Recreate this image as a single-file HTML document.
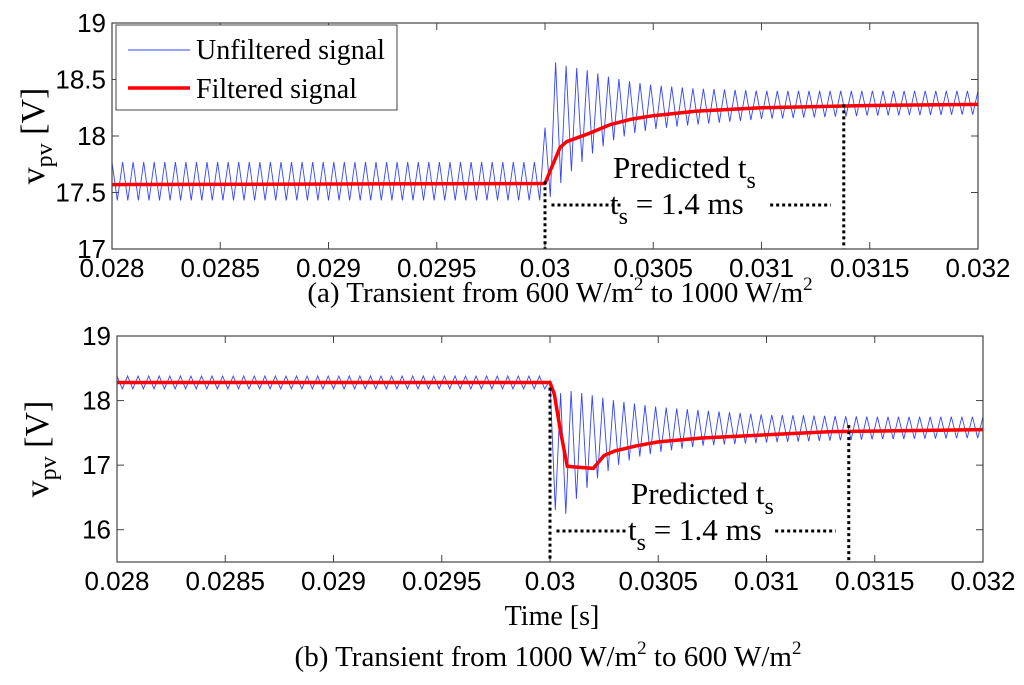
<!DOCTYPE html>
<html><head><meta charset="utf-8"><style>
html,body{margin:0;padding:0;background:#fff;}
svg{display:block;}
.tk{font-family:"Liberation Sans",sans-serif;font-size:26px;fill:#000;}
.sr{font-family:"Liberation Serif",serif;fill:#000;}
</style></head><body>
<svg id="fig" width="1024" height="685" viewBox="0 0 1024 685" xmlns="http://www.w3.org/2000/svg"></svg>
<script>
// ---- data ----
const xTicks = [0.028,0.0285,0.029,0.0295,0.03,0.0305,0.031,0.0315,0.032];
const xTickLabels = ["0.028","0.0285","0.029","0.0295","0.03","0.0305","0.031","0.0315","0.032"];
const aYTicks = [17,17.5,18,18.5,19];
const aYTickLabels = ["17","17.5","18","18.5","19"];
const bYTicks = [16,17,18,19];
const bYTickLabels = ["16","17","18","19"];
const ripplePeriod = 0.002/41;
// panel a: envelope knots
const aEnvT = [0.028,0.02999,0.03002,0.03006,0.0301,0.0302,0.0303,0.0304,0.0305,0.0307,0.031,0.0315,0.032];
const aEnvHi = [17.77,17.77,18.68,18.64,18.62,18.58,18.52,18.48,18.45,18.42,18.40,18.40,18.40];
const aEnvLo = [17.43,17.43,17.45,17.55,17.65,17.82,17.95,18.02,18.06,18.10,18.15,18.18,18.19];
const aFiltT = [0.028,0.03,0.03003,0.03007,0.0301,0.0302,0.0303,0.0304,0.0305,0.0307,0.031,0.0315,0.032];
const aFiltV = [17.57,17.58,17.72,17.9,17.95,18.02,18.1,18.15,18.18,18.22,18.25,18.27,18.28];
// panel b
const bEnvT = [0.028,0.02999,0.03003,0.0301,0.0302,0.0303,0.0304,0.0305,0.0307,0.031,0.0315,0.032];
const bEnvHi = [18.38,18.38,18.1,18.15,18.08,18.0,17.95,17.9,17.85,17.78,17.75,17.75];
const bEnvLo = [18.18,18.18,16.0,16.4,16.75,16.98,17.12,17.2,17.3,17.35,17.4,17.42];
const bFiltT = [0.028,0.03,0.03002,0.03005,0.03008,0.0302,0.03025,0.0303,0.0304,0.0305,0.0307,0.031,0.0313,0.032];
const bFiltV = [18.28,18.28,18.1,17.5,16.98,16.95,17.15,17.22,17.3,17.36,17.42,17.47,17.52,17.55];

const NS="http://www.w3.org/2000/svg";
const svg=document.getElementById('fig');
function mk(tag,attrs,parent){const e=document.createElementNS(NS,tag);for(const k in attrs)e.setAttribute(k,attrs[k]);(parent||svg).appendChild(e);return e;}
function interp(ts,vs,t){if(t<=ts[0])return vs[0];for(let i=1;i<ts.length;i++){if(t<=ts[i]){const f=(t-ts[i-1])/(ts[i]-ts[i-1]);return vs[i-1]+f*(vs[i]-vs[i-1]);}}return vs[vs.length-1];}

function panel(o){
  const X=t=>o.L+(t-0.028)/0.004*(o.R-o.L);
  const Y=v=>o.B-(v-o.ymin)/(o.ymax-o.ymin)*(o.B-o.T);
  const g=mk('g',{});
  
  
  const clipId=o.name+'-clip';
  const cp=mk('clipPath',{id:clipId},g);mk('rect',{x:o.L,y:o.T,width:o.R-o.L,height:o.B-o.T},cp);
  xTicks.forEach((t,i)=>{
    const x=X(t);
    const l1=mk('line',{x1:x,y1:o.B,x2:x,y2:o.B-7,stroke:'#444','stroke-width':1},g);
    
    mk('line',{x1:x,y1:o.T,x2:x,y2:o.T+7,stroke:'#444','stroke-width':1},g);
    const tx=mk('text',{x:x,y:o.B+28,'text-anchor':'middle',class:'tk'},g);tx.textContent=xTickLabels[i];
    
  });
  o.yt.forEach((v,i)=>{
    const y=Y(v);
    mk('line',{x1:o.L,y1:y,x2:o.L+7,y2:y,stroke:'#444','stroke-width':1},g);
    mk('line',{x1:o.R,y1:y,x2:o.R-7,y2:y,stroke:'#444','stroke-width':1},g);
    const tx=mk('text',{x:o.L-6,y:y+9,'text-anchor':'end',class:'tk'},g);tx.textContent=o.ytl[i];
    
  });
  const dg=mk('g',{'clip-path':'url(#'+clipId+')'},g);
  let pts=[];const half=ripplePeriod/2;
  for(let k=0;;k++){const t=0.028+k*half;if(t>0.032+half)break;
    const v=(k%2===0)?interp(o.eT,o.eHi,t):interp(o.eT,o.eLo,t);pts.push(X(t).toFixed(1)+','+Y(v).toFixed(1));}
  const pu=mk('polyline',{points:pts.join(' '),fill:'none',stroke:'#3344ff','stroke-width':0.9},dg);
  
  const pf=mk('polyline',{points:o.fT.map((t,i)=>X(t).toFixed(1)+','+Y(o.fV[i]).toFixed(1)).join(' '),fill:'none',stroke:'#ff0000','stroke-width':3.5,'stroke-linejoin':'round'},dg);
  
  const dot={stroke:'#000','stroke-width':3,'stroke-dasharray':'3,3',fill:'none'};
  const v1=mk('line',Object.assign({x1:X(0.03),y1:Y(o.v1top),x2:X(0.03),y2:o.B},dot),g);
  
  const v2=mk('line',Object.assign({x1:X(0.03138),y1:Y(o.v2top),x2:X(0.03138),y2:o.B},dot),g);
  
  mk('line',Object.assign({x1:X(0.03003),y1:o.hy,x2:X(0.03036),y2:o.hy},dot),g);
  mk('line',Object.assign({x1:X(0.03104),y1:o.hy,x2:X(0.03132),y2:o.hy},dot),g);
  const t1=mk('text',{x:o.px,y:o.hy-27,class:'sr','font-size':31},g);
  t1.innerHTML='Predicted t<tspan font-size="24" dy="10">s</tspan>';
  
  const t2=mk('text',{x:o.tsx,y:o.hy+9,class:'sr','font-size':31},g);
  t2.innerHTML='t<tspan font-size="24" dy="10">s</tspan><tspan dy="-10"> = 1.4 ms</tspan>';
  
  const bx=mk('rect',{x:o.L,y:o.T,width:o.R-o.L,height:o.B-o.T,fill:'none',stroke:'#444','stroke-width':1.2},g);
  
  const yl=mk('text',{transform:'translate('+o.ylx+','+((o.T+o.B)/2)+') rotate(-90)','text-anchor':'middle',class:'sr','font-size':34},g);
  yl.innerHTML='v<tspan font-size="24" dy="8">pv</tspan><tspan dy="-8"> [V]</tspan>';
  
  return {X,Y,g};
}
panel({name:'panel-a',L:112,R:978,T:23,B:249,ymin:17,ymax:19,yt:aYTicks,ytl:aYTickLabels,eT:aEnvT,eHi:aEnvHi,eLo:aEnvLo,fT:aFiltT,fV:aFiltV,v1top:17.6,v2top:18.28,hy:205,px:613,tsx:610,ylx:44});
panel({name:'panel-b',L:117,R:983,T:336,B:562,ymin:15.5,ymax:19,yt:bYTicks,ytl:bYTickLabels,eT:bEnvT,eHi:bEnvHi,eLo:bEnvLo,fT:bFiltT,fV:bFiltV,v1top:18.2,v2top:17.62,hy:531,px:631,tsx:628,ylx:48});

const lg=mk('g',{});


mk('rect',{x:116,y:25,width:281,height:85,fill:'#fff',stroke:'#444','stroke-width':1},lg);
mk('line',{x1:128,y1:50,x2:190,y2:50,stroke:'#3344ff','stroke-width':1},lg);
mk('line',{x1:128,y1:88,x2:190,y2:88,stroke:'#ff0000','stroke-width':3.5},lg);
const le1=mk('text',{x:196,y:59,class:'sr','font-size':28},lg);le1.textContent='Unfiltered signal';

const le2=mk('text',{x:196,y:98,class:'sr','font-size':28},lg);le2.textContent='Filtered signal';


const c1=mk('text',{x:560,y:302,'text-anchor':'middle',class:'sr','font-size':29});
c1.innerHTML='(a) Transient from 600 W/m<tspan font-size="19" dy="-12">2</tspan><tspan dy="12"> to 1000 W/m</tspan><tspan font-size="19" dy="-12">2</tspan>';

const xt=mk('text',{x:552,y:625,'text-anchor':'middle',class:'sr','font-size':28});xt.textContent='Time [s]';

const c2=mk('text',{x:548,y:666,'text-anchor':'middle',class:'sr','font-size':29});
c2.innerHTML='(b) Transient from 1000 W/m<tspan font-size="19" dy="-12">2</tspan><tspan dy="12"> to 600 W/m</tspan><tspan font-size="19" dy="-12">2</tspan>';

</script>
</body></html>
